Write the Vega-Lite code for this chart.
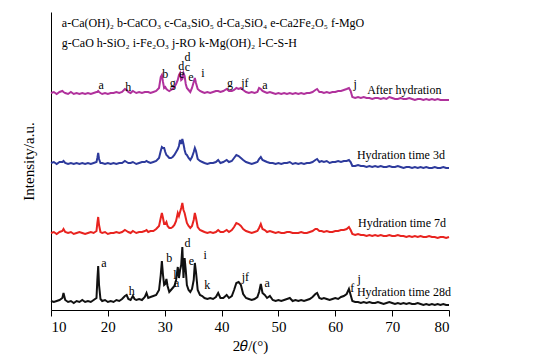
{
  "$schema": "https://vega.github.io/schema/vega-lite/v6.json",
  "width": 398,
  "height": 298,
  "autosize": {"type": "none"},
  "padding": {"left": 51, "top": 12, "right": 107, "bottom": 53},
  "background": "white",
  "config": {"view": {"stroke": null}},
  "datasets": {
    "xrd": [
      {"x":10.0,"k":9,"r":77,"b":147,"p":217},
      {"x":10.5,"k":8,"r":78,"b":148,"p":218},
      {"x":11.0,"k":9,"r":76,"b":146,"p":216},
      {"x":11.5,"k":10,"r":78,"b":148,"p":218},
      {"x":12.0,"k":12,"r":79,"b":148,"p":219},
      {"x":12.2,"k":17,"r":81,"b":149,"p":218},
      {"x":12.5,"k":10,"r":78,"b":147,"p":217},
      {"x":13.0,"k":8,"r":77,"b":146,"p":216},
      {"x":13.5,"k":9,"r":78,"b":147,"p":218},
      {"x":14.0,"k":7,"r":76,"b":146,"p":216},
      {"x":14.5,"k":9,"r":77,"b":147,"p":217},
      {"x":15.0,"k":8,"r":78,"b":146,"p":216},
      {"x":15.5,"k":10,"r":77,"b":147,"p":217},
      {"x":16.0,"k":8,"r":76,"b":146,"p":216},
      {"x":16.5,"k":9,"r":77,"b":147,"p":217},
      {"x":17.0,"k":8,"r":78,"b":146,"p":216},
      {"x":17.5,"k":10,"r":77,"b":147,"p":217},
      {"x":18.0,"k":12,"r":79,"b":148,"p":218},
      {"x":18.15,"k":30,"r":87,"b":152,"p":218},
      {"x":18.3,"k":44,"r":93,"b":157,"p":219},
      {"x":18.45,"k":25,"r":85,"b":151,"p":218},
      {"x":18.7,"k":11,"r":78,"b":147,"p":217},
      {"x":19.0,"k":9,"r":77,"b":147,"p":216},
      {"x":19.5,"k":10,"r":78,"b":146,"p":217},
      {"x":20.0,"k":8,"r":76,"b":147,"p":216},
      {"x":20.5,"k":9,"r":77,"b":146,"p":217},
      {"x":21.0,"k":8,"r":77,"b":147,"p":217},
      {"x":21.5,"k":10,"r":78,"b":146,"p":218},
      {"x":22.0,"k":9,"r":77,"b":147,"p":217},
      {"x":22.5,"k":11,"r":78,"b":147,"p":218},
      {"x":23.0,"k":14,"r":80,"b":149,"p":221},
      {"x":23.3,"k":15,"r":79,"b":148,"p":220},
      {"x":23.6,"k":11,"r":78,"b":147,"p":218},
      {"x":24.0,"k":10,"r":77,"b":147,"p":217},
      {"x":24.4,"k":14,"r":79,"b":148,"p":219},
      {"x":24.7,"k":11,"r":78,"b":147,"p":218},
      {"x":25.0,"k":10,"r":77,"b":146,"p":217},
      {"x":25.5,"k":11,"r":78,"b":147,"p":218},
      {"x":26.0,"k":10,"r":78,"b":148,"p":217},
      {"x":26.5,"k":13,"r":79,"b":148,"p":218},
      {"x":26.8,"k":17,"r":80,"b":149,"p":218},
      {"x":27.1,"k":12,"r":78,"b":148,"p":218},
      {"x":27.5,"k":13,"r":79,"b":147,"p":217},
      {"x":28.0,"k":14,"r":79,"b":148,"p":218},
      {"x":28.5,"k":15,"r":81,"b":149,"p":219},
      {"x":29.0,"k":20,"r":84,"b":152,"p":222},
      {"x":29.3,"k":35,"r":92,"b":159,"p":233},
      {"x":29.5,"k":49,"r":97,"b":163,"p":235},
      {"x":29.7,"k":35,"r":92,"b":162,"p":228},
      {"x":29.9,"k":25,"r":86,"b":162,"p":222},
      {"x":30.1,"k":26,"r":86,"b":158,"p":223},
      {"x":30.3,"k":31,"r":88,"b":155,"p":221},
      {"x":30.5,"k":24,"r":84,"b":154,"p":220},
      {"x":30.8,"k":18,"r":82,"b":152,"p":219},
      {"x":31.1,"k":20,"r":82,"b":152,"p":220},
      {"x":31.4,"k":22,"r":83,"b":153,"p":221},
      {"x":31.7,"k":24,"r":85,"b":155,"p":223},
      {"x":32.0,"k":30,"r":89,"b":158,"p":226},
      {"x":32.3,"k":43,"r":97,"b":161,"p":230},
      {"x":32.5,"k":32,"r":94,"b":164,"p":235},
      {"x":32.7,"k":40,"r":98,"b":170,"p":237},
      {"x":32.9,"k":45,"r":102,"b":166,"p":230},
      {"x":33.1,"k":63,"r":107,"b":171,"p":231},
      {"x":33.3,"k":32,"r":100,"b":166,"p":237},
      {"x":33.5,"k":52,"r":97,"b":160,"p":234},
      {"x":33.7,"k":40,"r":92,"b":156,"p":226},
      {"x":33.9,"k":25,"r":87,"b":155,"p":222},
      {"x":34.2,"k":20,"r":84,"b":152,"p":220},
      {"x":34.5,"k":18,"r":82,"b":150,"p":218},
      {"x":34.8,"k":21,"r":84,"b":153,"p":222},
      {"x":35.1,"k":30,"r":90,"b":158,"p":228},
      {"x":35.3,"k":47,"r":97,"b":162,"p":232},
      {"x":35.5,"k":38,"r":92,"b":159,"p":227},
      {"x":35.8,"k":20,"r":83,"b":151,"p":221},
      {"x":36.2,"k":15,"r":80,"b":149,"p":219},
      {"x":36.6,"k":14,"r":79,"b":148,"p":218},
      {"x":37.0,"k":12,"r":78,"b":147,"p":217},
      {"x":37.5,"k":11,"r":77,"b":146,"p":218},
      {"x":38.0,"k":12,"r":78,"b":147,"p":217},
      {"x":38.5,"k":11,"r":77,"b":147,"p":218},
      {"x":39.0,"k":13,"r":78,"b":148,"p":219},
      {"x":39.4,"k":17,"r":80,"b":150,"p":219},
      {"x":39.8,"k":12,"r":78,"b":147,"p":218},
      {"x":40.3,"k":12,"r":78,"b":148,"p":219},
      {"x":40.9,"k":15,"r":80,"b":150,"p":221},
      {"x":41.3,"k":12,"r":78,"b":148,"p":219},
      {"x":41.8,"k":14,"r":80,"b":149,"p":219},
      {"x":42.2,"k":20,"r":83,"b":152,"p":220},
      {"x":42.6,"k":27,"r":87,"b":155,"p":222},
      {"x":43.0,"k":28,"r":86,"b":154,"p":221},
      {"x":43.4,"k":25,"r":84,"b":152,"p":222},
      {"x":43.8,"k":16,"r":81,"b":150,"p":220},
      {"x":44.3,"k":12,"r":79,"b":148,"p":218},
      {"x":44.8,"k":11,"r":78,"b":147,"p":217},
      {"x":45.3,"k":10,"r":77,"b":146,"p":218},
      {"x":45.8,"k":11,"r":78,"b":147,"p":217},
      {"x":46.3,"k":13,"r":79,"b":148,"p":218},
      {"x":46.6,"k":18,"r":82,"b":151,"p":222},
      {"x":46.9,"k":26,"r":86,"b":153,"p":221},
      {"x":47.2,"k":17,"r":81,"b":150,"p":219},
      {"x":47.6,"k":15,"r":80,"b":149,"p":218},
      {"x":48.0,"k":12,"r":78,"b":148,"p":217},
      {"x":48.5,"k":14,"r":79,"b":147,"p":218},
      {"x":49.0,"k":10,"r":78,"b":147,"p":217},
      {"x":49.5,"k":9,"r":77,"b":146,"p":216},
      {"x":50.0,"k":10,"r":78,"b":147,"p":217},
      {"x":50.5,"k":9,"r":77,"b":146,"p":216},
      {"x":51.0,"k":10,"r":77,"b":147,"p":217},
      {"x":51.5,"k":11,"r":78,"b":147,"p":216},
      {"x":52.0,"k":12,"r":78,"b":148,"p":217},
      {"x":52.5,"k":9,"r":77,"b":146,"p":216},
      {"x":53.0,"k":10,"r":77,"b":147,"p":217},
      {"x":53.5,"k":9,"r":77,"b":146,"p":216},
      {"x":54.0,"k":10,"r":78,"b":147,"p":217},
      {"x":54.5,"k":9,"r":77,"b":146,"p":216},
      {"x":55.0,"k":10,"r":77,"b":147,"p":217},
      {"x":55.5,"k":11,"r":78,"b":147,"p":217},
      {"x":56.0,"k":13,"r":79,"b":148,"p":218},
      {"x":56.5,"k":16,"r":81,"b":150,"p":220},
      {"x":56.8,"k":17,"r":81,"b":151,"p":221},
      {"x":57.2,"k":12,"r":79,"b":148,"p":218},
      {"x":57.6,"k":11,"r":79,"b":149,"p":218},
      {"x":58.0,"k":12,"r":78,"b":148,"p":217},
      {"x":58.5,"k":11,"r":79,"b":149,"p":218},
      {"x":59.0,"k":10,"r":78,"b":147,"p":217},
      {"x":59.5,"k":11,"r":78,"b":148,"p":218},
      {"x":60.0,"k":12,"r":79,"b":148,"p":218},
      {"x":60.5,"k":11,"r":79,"b":149,"p":219},
      {"x":61.0,"k":13,"r":80,"b":148,"p":219},
      {"x":61.5,"k":14,"r":80,"b":149,"p":220},
      {"x":62.0,"k":16,"r":81,"b":149,"p":221},
      {"x":62.4,"k":21,"r":83,"b":150,"p":222},
      {"x":62.7,"k":15,"r":80,"b":148,"p":219},
      {"x":63.0,"k":9,"r":76,"b":144,"p":213},
      {"x":63.5,"k":8,"r":75,"b":144,"p":212},
      {"x":64.0,"k":8,"r":76,"b":145,"p":213},
      {"x":64.5,"k":7,"r":75,"b":144,"p":212},
      {"x":65.0,"k":8,"r":75,"b":144,"p":213},
      {"x":65.5,"k":7,"r":74,"b":143,"p":212},
      {"x":66.0,"k":8,"r":75,"b":144,"p":212},
      {"x":66.5,"k":7,"r":74,"b":143,"p":211},
      {"x":67.0,"k":7,"r":75,"b":144,"p":212},
      {"x":67.5,"k":8,"r":74,"b":143,"p":212},
      {"x":68.0,"k":7,"r":75,"b":144,"p":211},
      {"x":68.5,"k":6,"r":74,"b":143,"p":212},
      {"x":69.0,"k":7,"r":74,"b":143,"p":211},
      {"x":69.5,"k":8,"r":75,"b":144,"p":213},
      {"x":70.0,"k":7,"r":74,"b":143,"p":212},
      {"x":70.5,"k":6,"r":74,"b":143,"p":211},
      {"x":71.0,"k":7,"r":75,"b":144,"p":211},
      {"x":71.5,"k":6,"r":74,"b":143,"p":212},
      {"x":72.0,"k":7,"r":74,"b":142,"p":211},
      {"x":72.5,"k":6,"r":73,"b":143,"p":211},
      {"x":73.0,"k":7,"r":74,"b":143,"p":212},
      {"x":73.5,"k":6,"r":73,"b":142,"p":211},
      {"x":74.0,"k":6,"r":74,"b":143,"p":210},
      {"x":74.5,"k":7,"r":73,"b":142,"p":211},
      {"x":75.0,"k":6,"r":74,"b":143,"p":211},
      {"x":75.5,"k":5,"r":73,"b":142,"p":210},
      {"x":76.0,"k":6,"r":73,"b":143,"p":211},
      {"x":76.5,"k":5,"r":74,"b":142,"p":210},
      {"x":77.0,"k":6,"r":73,"b":142,"p":211},
      {"x":77.5,"k":5,"r":73,"b":143,"p":210},
      {"x":78.0,"k":6,"r":72,"b":142,"p":211},
      {"x":78.5,"k":5,"r":73,"b":142,"p":210},
      {"x":79.0,"k":6,"r":73,"b":143,"p":210},
      {"x":79.5,"k":5,"r":72,"b":142,"p":210},
      {"x":80.0,"k":5,"r":73,"b":142,"p":210}
    ],
    "peaks": [
      {"x":18.8,"v":225,"t":"a"},
      {"x":23.6,"v":223,"t":"h"},
      {"x":30.1,"v":236,"t":"b"},
      {"x":31.4,"v":227,"t":"g"},
      {"x":32.9,"v":244,"t":"d"},
      {"x":33.0,"v":236,"t":"e"},
      {"x":34.0,"v":243,"t":"c"},
      {"x":34.0,"v":253,"t":"d"},
      {"x":34.6,"v":233,"t":"e"},
      {"x":36.7,"v":237,"t":"i"},
      {"x":41.5,"v":227,"t":"g"},
      {"x":44.1,"v":227,"t":"jf"},
      {"x":47.6,"v":225,"t":"a"},
      {"x":63.5,"v":226,"t":"j"},
      {"x":19.3,"v":47,"t":"a"},
      {"x":24.2,"v":19,"t":"h"},
      {"x":30.8,"v":52,"t":"b"},
      {"x":31.8,"v":35,"t":"l"},
      {"x":32.1,"v":27,"t":"a"},
      {"x":34.0,"v":67,"t":"d"},
      {"x":34.7,"v":49,"t":"e"},
      {"x":37.1,"v":55,"t":"i"},
      {"x":37.5,"v":25,"t":"k"},
      {"x":44.2,"v":33,"t":"jf"},
      {"x":48.0,"v":27,"t":"a"},
      {"x":63.0,"v":22,"t":"f"},
      {"x":64.2,"v":31,"t":"j"}
    ],
    "labels": [
      {"x":65.6,"v":220,"t":"After hydration"},
      {"x":63.8,"v":155,"t":"Hydration time 3d"},
      {"x":64.0,"v":87,"t":"Hydration time 7d"},
      {"x":63.8,"v":18,"t":"Hydration time 28d"},
      {"x":11.9,"v":287,"t":"a-Ca(OH)₂ b-CaCO₃ c-Ca₃SiO₅ d-Ca₂SiO₄ e-Ca2Fe₂O₅ f-MgO"},
      {"x":11.9,"v":267,"t":"g-CaO h-SiO₂ i-Fe₂O₃ j-RO k-Mg(OH)₂ l-C-S-H"}
    ]
  },
  "layer": [
    {
      "data": {"name": "xrd"},
      "transform": [{"fold": ["k", "r", "b", "p"], "as": ["s", "v"]}],
      "mark": {"type": "line", "strokeWidth": 2},
      "encoding": {
        "x": {
          "field": "x", "type": "quantitative",
          "scale": {"domain": [10, 80], "nice": false, "zero": false},
          "axis": {
            "title": "2𝜃/(°)",
            "values": [10, 20, 30, 40, 50, 60, 70, 80],
            "grid": false,
            "domainColor": "black", "tickColor": "black", "tickSize": 6,
            "labelColor": "black", "labelFont": "Liberation Serif", "labelFontSize": 15,
            "labelPadding": 3,
            "titleColor": "black", "titleFont": "Liberation Serif", "titleFontSize": 15,
            "titleFontWeight": "normal", "titlePadding": 4
          }
        },
        "y": {
          "field": "v", "type": "quantitative",
          "scale": {"domain": [0, 298], "nice": false},
          "axis": {
            "title": "Intensity/a.u.",
            "ticks": false, "labels": false, "grid": false,
            "domainColor": "black",
            "titleColor": "black", "titleFont": "Liberation Serif", "titleFontSize": 15,
            "titleFontWeight": "normal", "titlePadding": 15
          }
        },
        "color": {
          "field": "s", "type": "nominal",
          "scale": {"domain": ["k", "r", "b", "p"], "range": ["#111111", "#e8231f", "#2d3a9c", "#b0319c"]},
          "legend": null
        }
      }
    },
    {
      "data": {"name": "peaks"},
      "mark": {"type": "text", "font": "Liberation Serif", "fontSize": 12, "color": "black", "align": "center", "baseline": "middle"},
      "encoding": {
        "x": {"field": "x", "type": "quantitative"},
        "y": {"field": "v", "type": "quantitative"},
        "text": {"field": "t"}
      }
    },
    {
      "data": {"name": "labels"},
      "mark": {"type": "text", "font": "Liberation Serif", "fontSize": 12, "color": "black", "align": "left", "baseline": "middle"},
      "encoding": {
        "x": {"field": "x", "type": "quantitative"},
        "y": {"field": "v", "type": "quantitative"},
        "text": {"field": "t"}
      }
    }
  ]
}
